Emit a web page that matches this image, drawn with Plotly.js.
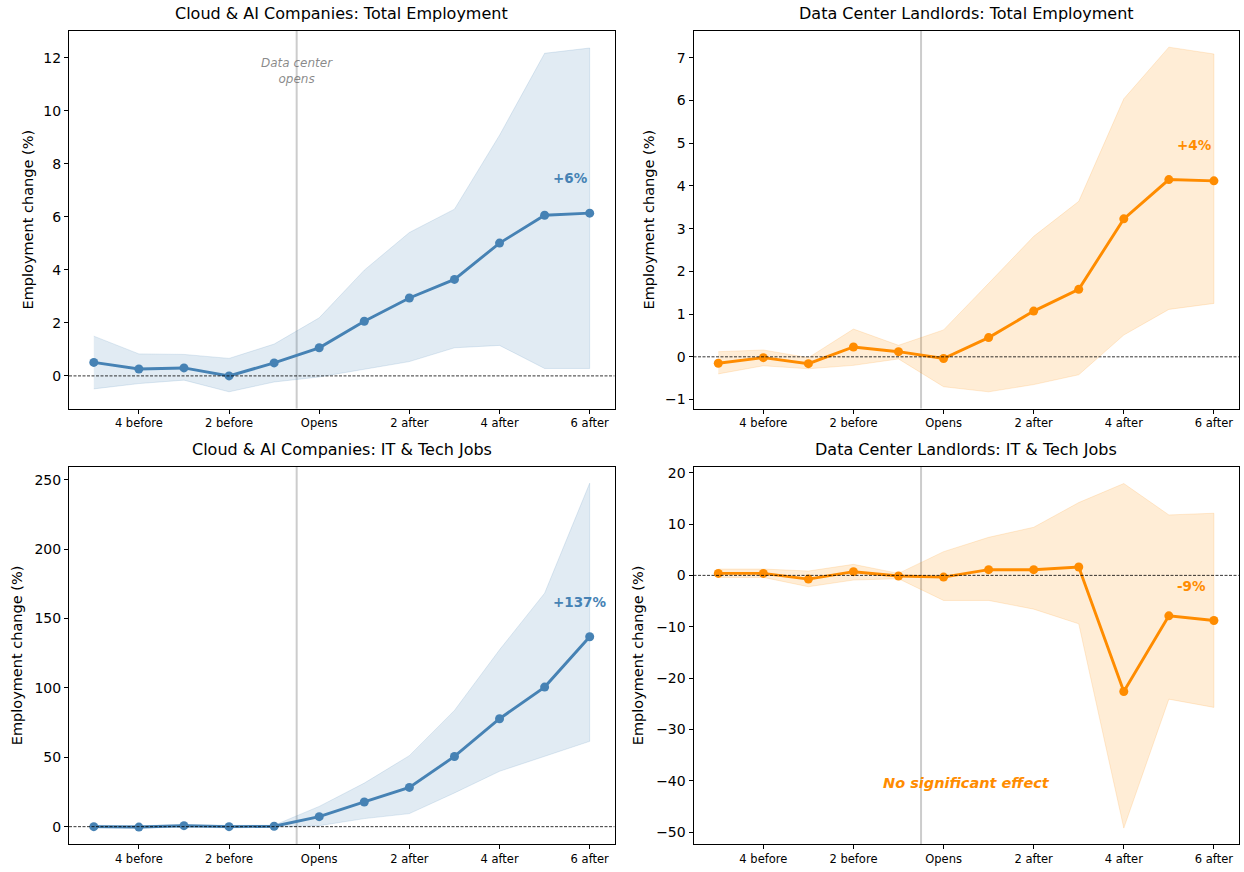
<!DOCTYPE html>
<html>
<head>
<meta charset="utf-8">
<script src="https://cdn.plot.ly/plotly-3.0.1.min.js"></script>
<style>html,body{margin:0;padding:0;background:#fff;}#chart{width:1244px;height:872px;}</style>
</head>
<body>
<div id="chart"></div>
<script>
// ---- data ----
const eventTime = [-5, -4, -3, -2, -1, 0, 1, 2, 3, 4, 5, 6];
const tickVals = [-4, -2, 0, 2, 4, 6];
const tickLabels = ["4 before", "2 before", "Opens", "2 after", "4 after", "6 after"];

const cloudTotal   = [0.51, 0.26, 0.30, 0.00, 0.49, 1.06, 2.06, 2.94, 3.64, 5.01, 6.06, 6.14];
const cloudTotalHi = [1.50, 0.83, 0.81, 0.66, 1.20, 2.19, 3.99, 5.41, 6.29, 9.08, 12.17, 12.37];
const cloudTotalLo = [-0.49, -0.29, -0.16, -0.60, -0.23, -0.04, 0.26, 0.54, 1.06, 1.15, 0.28, 0.28];

const landTotal   = [-0.15, -0.02, -0.16, 0.23, 0.12, -0.04, 0.45, 1.07, 1.58, 3.23, 4.15, 4.12];
const landTotalHi = [0.12, 0.16, -0.02, 0.65, 0.27, 0.63, 1.72, 2.82, 3.64, 6.04, 7.25, 7.09];
const landTotalLo = [-0.40, -0.21, -0.28, -0.20, -0.05, -0.70, -0.82, -0.65, -0.42, 0.51, 1.11, 1.25];

const cloudIT   = [0.0, -0.3, 0.7, 0.0, 0.3, 7.2, 17.8, 28.3, 50.6, 77.8, 100.6, 136.9];
const cloudITHi = [1.0, 0.6, 1.6, 0.9, 1.0, 14.6, 31.4, 51.2, 83.8, 127.5, 168.3, 247.6];
const cloudITLo = [-1.0, -1.2, -0.3, -0.9, -0.4, 0.7, 5.8, 9.4, 24.3, 39.9, 50.7, 61.5];

const landIT   = [0.39, 0.39, -0.72, 0.72, -0.13, -0.33, 1.11, 1.11, 1.63, -22.6, -7.87, -8.78];
const landITHi = [1.24, 1.24, 0.85, 2.15, 0.39, 4.62, 7.41, 9.37, 14.18, 17.89, 11.77, 12.10];
const landITLo = [-0.39, -0.39, -2.21, -0.91, -0.65, -4.88, -4.88, -6.57, -9.43, -49.2, -24.1, -25.7];

const titles = [
  "Cloud & AI Companies: Total Employment",
  "Data Center Landlords: Total Employment",
  "Cloud & AI Companies: IT & Tech Jobs",
  "Data Center Landlords: IT & Tech Jobs"
];
const effectLabels = ["+6%", "+4%", "+137%", "-9%"];
const yTitle = "Employment change (%)";
const openLabel = "Data center<br>opens";
const nullLabel = "No significant effect";

// ---- styling ----
const W = 1244, H = 872;
const BLUE = "#4682b4", ORANGE = "#ff8c00";
const BLUE_FILL = "rgba(70,130,180,0.16)", ORANGE_FILL = "rgba(255,140,0,0.16)";
const FONT = "DejaVu Sans";
const px = v => v / W;
const py = v => 1 - v / H;

const panels = [
  {mean: cloudTotal, hi: cloudTotalHi, lo: cloudTotalLo, color: BLUE, fill: BLUE_FILL,
   box: [69, 614.5, 30.5, 408.5], yr: [-1.23, 13.03], dtick: 2, ylabX: 27},
  {mean: landTotal, hi: landTotalHi, lo: landTotalLo, color: ORANGE, fill: ORANGE_FILL,
   box: [693.5, 1238.7, 30.5, 408.5], yr: [-1.21, 7.64], dtick: 1, ylabX: 648},
  {mean: cloudIT, hi: cloudITHi, lo: cloudITLo, color: BLUE, fill: BLUE_FILL,
   box: [69, 614.5, 466.5, 844], yr: [-12.5, 259.6], dtick: 50, ylabX: 17},
  {mean: landIT, hi: landITHi, lo: landITLo, color: ORANGE, fill: ORANGE_FILL,
   box: [693.5, 1238.7, 466.5, 844], yr: [-52.3, 21.2], dtick: 10, ylabX: 638}
];
const labelPos = [[5.58, 7.46], [5.58, 4.95], [5.78, 162], [5.5, -2.0]];

const traces = [];
const layout = {
  width: W, height: H,
  margin: {l: 0, r: 0, t: 0, b: 0},
  paper_bgcolor: "#fff", plot_bgcolor: "#fff",
  showlegend: false,
  font: {family: FONT, color: "#000"},
  shapes: [], annotations: []
};

panels.forEach((p, i) => {
  const n = i + 1;
  const xa = n === 1 ? "x" : "x" + n;
  const ya = n === 1 ? "y" : "y" + n;
  const xk = n === 1 ? "xaxis" : "xaxis" + n;
  const yk = n === 1 ? "yaxis" : "yaxis" + n;
  const [x0, x1, yt, yb] = p.box;

  // confidence band
  traces.push({
    x: eventTime.concat(eventTime.slice().reverse()),
    y: p.hi.concat(p.lo.slice().reverse()),
    xaxis: xa, yaxis: ya, type: "scatter", mode: "lines",
    fill: "toself", fillcolor: p.fill,
    line: {color: p.fill, width: 1}, hoverinfo: "skip"
  });
  // estimate line
  traces.push({
    x: eventTime, y: p.mean, xaxis: xa, yaxis: ya, type: "scatter",
    mode: "lines+markers",
    line: {color: p.color, width: 2.9},
    marker: {color: p.color, size: 9}
  });

  layout[xk] = {
    domain: [px(x0), px(x1)], anchor: ya,
    range: [-5.55, 6.55], tickmode: "array", tickvals: tickVals, ticktext: tickLabels,
    showgrid: false, zeroline: false,
    showline: true, mirror: true, linecolor: "#000", linewidth: 1,
    ticks: "outside", ticklen: 4, tickwidth: 1, tickcolor: "#000",
    tickfont: {family: FONT, size: 11.5, color: "#000"}
  };
  layout[yk] = {
    domain: [py(yb), py(yt)], anchor: xa,
    range: p.yr, dtick: p.dtick, tick0: 0,
    showgrid: false, zeroline: false,
    showline: true, mirror: true, linecolor: "#000", linewidth: 1,
    ticks: "outside", ticklen: 4, tickwidth: 1, tickcolor: "#000",
    tickfont: {family: FONT, size: 14, color: "#000"}
  };

  // zero reference line
  layout.shapes.push({
    type: "line", xref: xa + " domain", yref: ya, x0: 0, x1: 1, y0: 0, y1: 0,
    line: {color: "#000", width: 0.8, dash: "3px,1.5px"}, layer: "above"
  });
  // opening line
  layout.shapes.push({
    type: "line", xref: xa, yref: ya + " domain", x0: -0.5, x1: -0.5, y0: 0, y1: 1,
    line: {color: "rgba(128,128,128,0.4)", width: 2}, layer: "below"
  });

  // subplot title
  layout.annotations.push({
    text: titles[i], xref: "paper", yref: "paper",
    x: px((x0 + x1) / 2), y: py(yt - 6), xanchor: "center", yanchor: "bottom",
    showarrow: false, font: {family: FONT, size: 16, color: "#000"}
  });
  // y title
  layout.annotations.push({
    text: yTitle, xref: "paper", yref: "paper", textangle: -90,
    x: px(p.ylabX), y: py((yt + yb) / 2), xanchor: "center", yanchor: "middle",
    showarrow: false, font: {family: FONT, size: 14.5, color: "#000"}
  });
  // effect label
  layout.annotations.push({
    text: effectLabels[i], xref: xa, yref: ya,
    x: labelPos[i][0], y: labelPos[i][1], xanchor: "center", yanchor: "middle",
    showarrow: false, font: {family: FONT, size: 13.5, color: p.color, weight: "bold"}
  });
});

layout.annotations.push({
  text: openLabel, xref: "x", yref: "y", x: -0.5, y: 11.5,
  xanchor: "center", yanchor: "middle", showarrow: false,
  font: {family: FONT, size: 12, color: "rgba(100,100,100,0.75)", style: "italic"}
});
layout.annotations.push({
  text: nullLabel, xref: "x4", yref: "y4", x: 0.5, y: -40.5,
  xanchor: "center", yanchor: "middle", showarrow: false,
  font: {family: FONT, size: 14.5, color: ORANGE, weight: "bold", style: "italic"}
});

Plotly.newPlot("chart", traces, layout, {staticPlot: true, displayModeBar: false});
</script>
</body>
</html>
